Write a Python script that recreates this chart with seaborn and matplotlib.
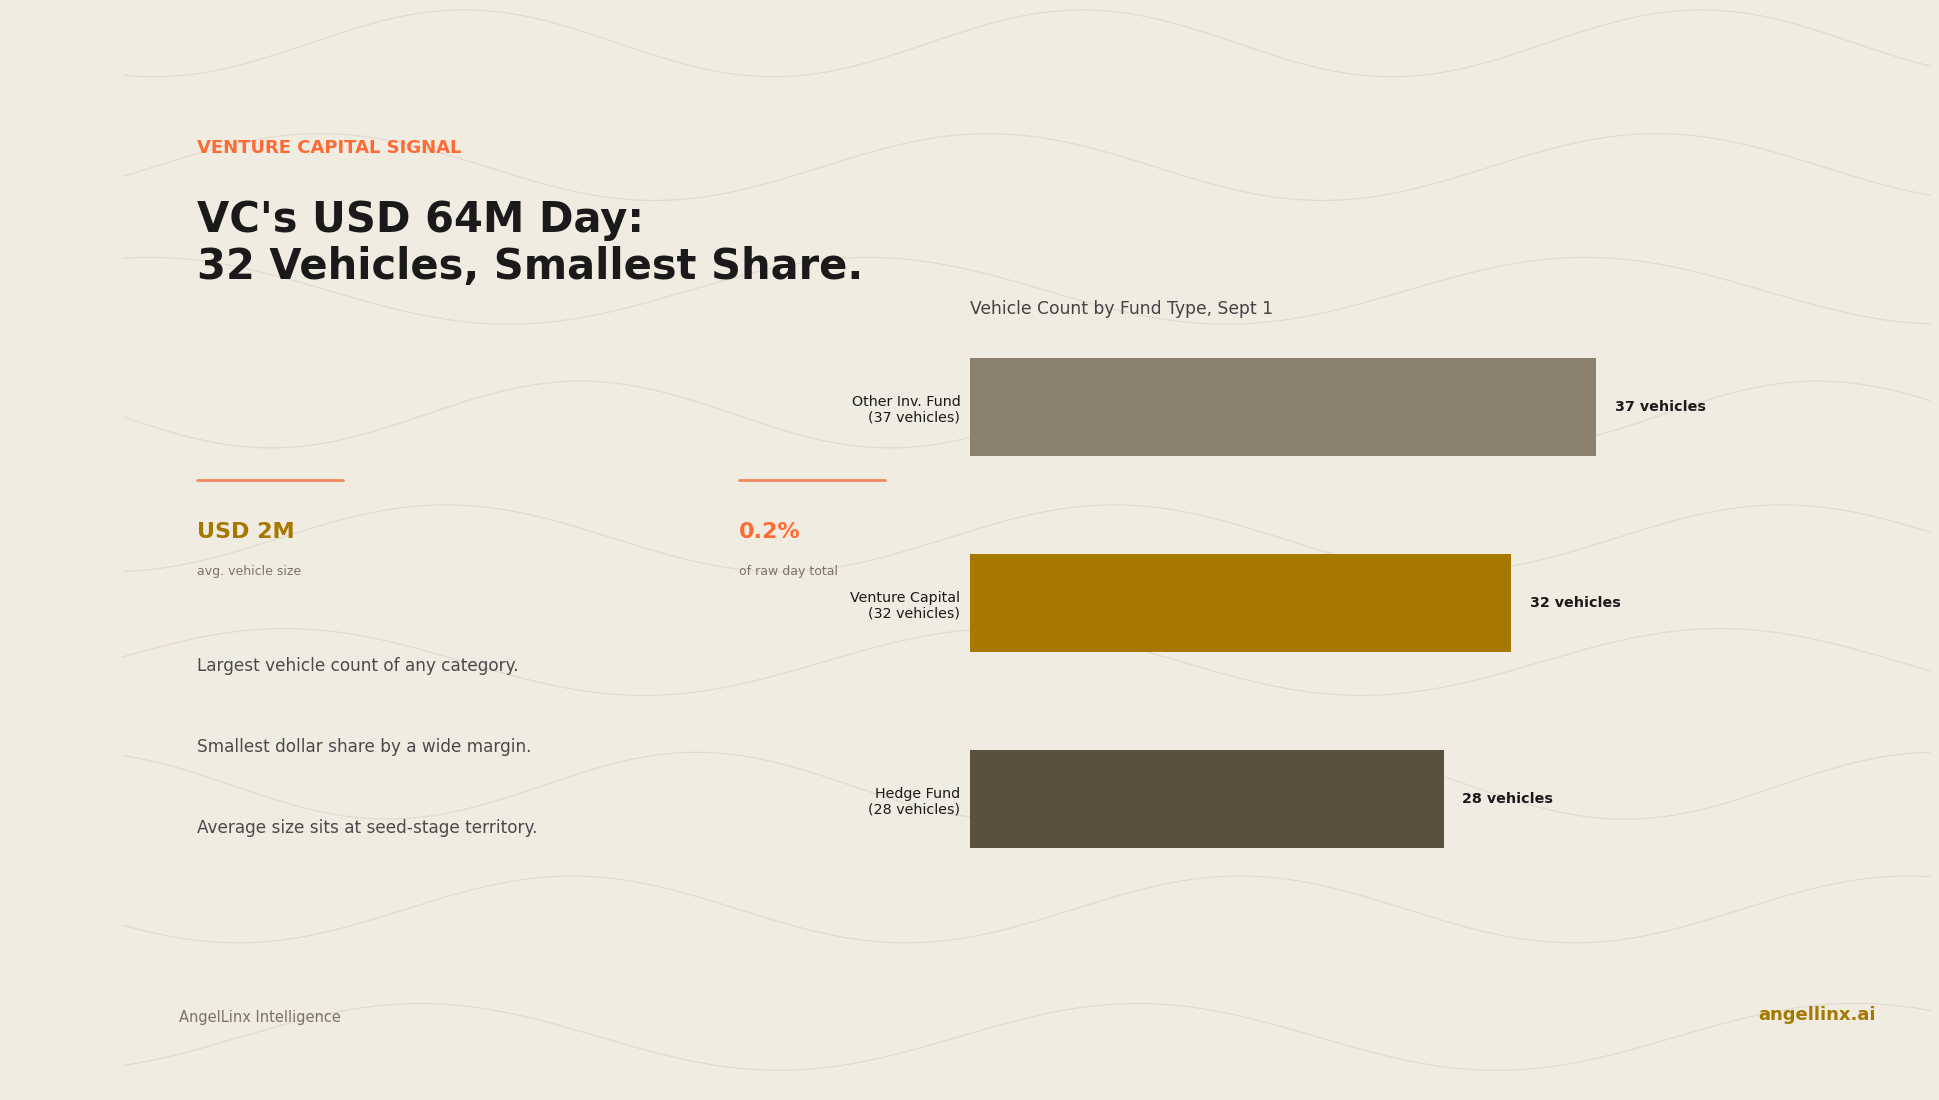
import numpy as np
import matplotlib
matplotlib.use("Agg")
import matplotlib.pyplot as plt
import seaborn as sns
import pandas as pd

categories = ["Other Inv. Fund\n(37 vehicles)", "Venture Capital\n(32 vehicles)", "Hedge Fund\n(28 vehicles)"]
values = [37, 32, 28]
value_labels = ["37 vehicles", "32 vehicles", "28 vehicles"]
colors = ["#8B7F6E", "#A67800", "#5A5040"]

BG = "#F0ECE2"
sns.set_theme(style="white")
plt.rcParams['font.family'] = ['DejaVu Sans']

W, H = 1568, 889
fig = plt.figure(figsize=(19.4, 11), dpi=100, facecolor=BG)

def fx(x): return x / W
def fy(y): return 1 - y / H

# background waves (decoration)
bg = fig.add_axes([0, 0, 1, 1], facecolor=BG)
bg.set_xlim(0, W); bg.set_ylim(H, 0); bg.axis("off")
xs = np.linspace(100, 1560, 800)
for i, y0 in enumerate([35, 135, 235, 335, 435, 535, 635, 735, 838]):
    per = 500 + 40 * (i % 3)
    bg.plot(xs, y0 + 27 * np.sin(2 * np.pi * xs / per + i * 1.7), color="#D8D0C2", lw=0.9, alpha=0.6)

# text
fig.text(fx(159), fy(120), "VENTURE CAPITAL SIGNAL", color="#FF6B35", fontsize=13, weight="bold", va="center")
fig.text(fx(159), fy(197), "VC's USD 64M Day:\n32 Vehicles, Smallest Share.", color="#1A1A1A", fontsize=30,
         weight="bold", va="center", linespacing=1.15)
bg.plot([159, 277], [388, 388], color="#F08A60", lw=2)
bg.plot([597, 715], [388, 388], color="#F08A60", lw=2)
fig.text(fx(159), fy(430), "USD 2M", color="#A67800", fontsize=16, weight="bold", va="center")
fig.text(fx(159), fy(462), "avg. vehicle size", color="#7A7368", fontsize=9, va="center")
fig.text(fx(597), fy(430), "0.2%", color="#FF6B35", fontsize=16, weight="bold", va="center")
fig.text(fx(597), fy(462), "of raw day total", color="#7A7368", fontsize=9, va="center")
for y, t in [(538, "Largest vehicle count of any category."),
             (604, "Smallest dollar share by a wide margin."),
             (669, "Average size sits at seed-stage territory.")]:
    fig.text(fx(159), fy(y), t, color="#4A4A4A", fontsize=12.2, va="center")
fig.text(fx(145), fy(822), "AngelLinx Intelligence", color="#7A7368", fontsize=10.5, va="center")
fig.text(fx(1516), fy(820), "angellinx.ai", color="#A67800", fontsize=13, weight="bold", va="center", ha="right")
fig.text(fx(784), fy(250), "Vehicle Count by Fund Type, Sept 1", color="#444444", fontsize=12.3, va="center")

# bar chart
ax = fig.add_axes([fx(784), fy(725), fx(1458) - fx(784), fy(250) - fy(725)])
ax.patch.set_alpha(0)
df = pd.DataFrame({"cat": categories, "val": values})
sns.barplot(data=df, y="cat", x="val", hue="cat", palette=colors, width=0.5, legend=False, ax=ax,
            saturation=1, linewidth=0, edgecolor="none")
ax.set_xlim(0, (1458 - 784) / ((1290 - 784) / 37))
ax.set_xlabel(""); ax.set_ylabel("")
ax.set_xticks([])
for s in ax.spines.values(): s.set_visible(False)
ax.tick_params(axis="y", length=5, width=0.8, color="#333333", labelsize=10.3, labelcolor="#1A1A1A", pad=2)
for lab in ax.get_yticklabels(): lab.set_horizontalalignment("right"); lab.set_multialignment("right")
for i, (v, t) in enumerate(zip(values, value_labels)):
    ax.text(v + 1.1, i, t, va="center", ha="left", fontsize=10.3, weight="bold", color="#1A1A1A")

fig.savefig("out.png", dpi=100, facecolor=BG)
